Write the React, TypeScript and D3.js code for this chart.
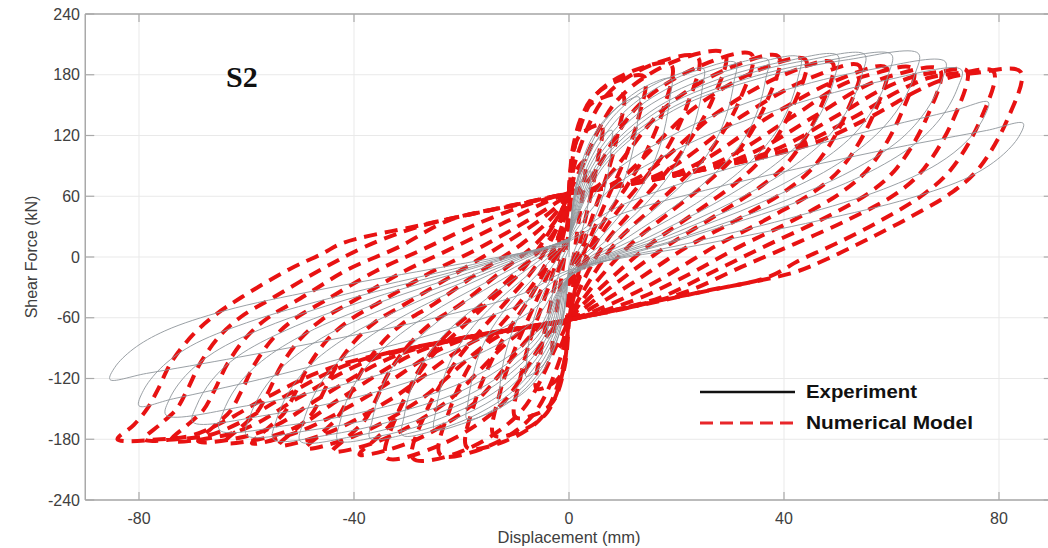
import React from "react";
import * as d3 from "d3";

type P = [number, number];

const xTicks = [-80, -40, 0, 40, 80];
const yTicks = [-240, -180, -120, -60, 0, 60, 120, 180, 240];

// ---- Experiment (gray) cycles: [displacement mm, shear kN]
const exp01: P[] = [[0,0],[0.4,38],[1.2,61],[2.2,75],[3.2,82],[4,85],[4,77],[3.8,64],[3.5,51],[3,37],[2.2,23],[1.2,9],[0,-9],[-0.4,-36],[-1.2,-58],[-2.2,-70],[-3.2,-78],[-4,-80],[-4,-72],[-3.8,-60],[-3.5,-48],[-3,-35],[-2.2,-22],[-1.2,-8],[0,8]];
const exp02: P[] = [[0,8],[0.8,56],[2.4,90],[4.4,110],[6.4,121],[8,125],[7.9,113],[7.6,94],[7,75],[6,55],[4.4,34],[2.4,13],[0,-13],[-0.8,-53],[-2.4,-85],[-4.4,-104],[-6.4,-114],[-8,-118],[-7.9,-106],[-7.6,-89],[-7,-71],[-6,-52],[-4.4,-32],[-2.4,-12],[0,12]];
const exp03: P[] = [[0,12],[1.3,71],[3.9,114],[7.2,139],[10.4,153],[13,158],[12.9,142],[12.4,119],[11.4,95],[9.8,70],[7.2,43],[3.9,16],[0,-16],[-1.3,-65],[-3.9,-104],[-7.2,-128],[-10.4,-141],[-13,-145],[-12.9,-131],[-12.4,-109],[-11.4,-87],[-9.8,-64],[-7.2,-39],[-3.9,-15],[0,15]];
const exp04: P[] = [[0,15],[1.9,79],[5.7,127],[10.5,155],[15.2,171],[19,176],[18.8,158],[18,132],[16.7,106],[14.3,77],[10.5,48],[5.7,18],[0,-18],[-1.9,-72],[-5.7,-115],[-10.5,-141],[-15.2,-155],[-19,-160],[-18.8,-144],[-18,-120],[-16.7,-96],[-14.3,-70],[-10.5,-43],[-5.7,-16],[0,16]];
const exp05: P[] = [[0,16],[2.5,84],[7.5,134],[13.8,164],[20,180],[25,186],[24.8,167],[23.8,140],[22,112],[18.8,82],[13.8,50],[7.5,19],[0,-19],[-2.5,-77],[-7.5,-122],[-13.8,-150],[-20,-165],[-25,-170],[-24.8,-153],[-23.8,-128],[-22,-102],[-18.8,-75],[-13.8,-46],[-7.5,-17],[0,17]];
const exp06: P[] = [[0,17],[3.1,86],[9.3,138],[17,169],[24.8,186],[31,192],[30.7,173],[29.5,144],[27.3,115],[23.3,84],[17,52],[9.3,19],[0,-19],[-3.1,-79],[-9.3,-127],[-17,-155],[-24.8,-171],[-31,-176],[-30.7,-158],[-29.5,-132],[-27.3,-106],[-23.3,-77],[-17,-48],[-9.3,-18],[0,18]];
const exp07: P[] = [[0,18],[3.7,88],[11.1,140],[20.4,172],[29.6,189],[37,195],[36.6,176],[35.2,146],[32.6,117],[27.8,86],[20.4,53],[11.1,20],[0,-20],[-3.7,-81],[-11.1,-129],[-20.4,-158],[-29.6,-174],[-37,-179],[-36.6,-161],[-35.2,-134],[-32.6,-107],[-27.8,-79],[-20.4,-48],[-11.1,-18],[0,18]];
const exp08: P[] = [[0,18],[4.3,89],[12.9,142],[23.7,173],[34.4,191],[43,197],[42.6,177],[40.9,148],[37.8,118],[32.3,87],[23.7,53],[12.9,20],[0,-20],[-4.3,-81],[-12.9,-130],[-23.7,-159],[-34.4,-176],[-43,-181],[-42.6,-163],[-40.9,-136],[-37.8,-109],[-32.3,-80],[-23.7,-49],[-12.9,-18],[0,18]];
const exp09: P[] = [[0,18],[5,90],[15,143],[27.5,175],[40,193],[50,199],[49.5,179],[47.5,149],[44,119],[37.5,88],[27.5,54],[15,20],[0,-20],[-5,-82],[-15,-131],[-27.5,-160],[-40,-177],[-50,-182],[-49.5,-164],[-47.5,-137],[-44,-109],[-37.5,-80],[-27.5,-49],[-15,-18],[0,18]];
const exp10: P[] = [[0,18],[5.5,90],[16.5,144],[30.3,176],[44,194],[55,200],[54.5,180],[52.3,150],[48.4,120],[41.3,88],[30.3,54],[16.5,20],[0,-20],[-5.5,-81],[-16.5,-130],[-30.3,-158],[-44,-175],[-55,-180],[-54.5,-162],[-52.3,-135],[-48.4,-108],[-41.3,-79],[-30.3,-49],[-16.5,-18],[0,18]];
const exp11: P[] = [[0,18],[6,90],[18,144],[33,176],[48,194],[60,200],[59.4,180],[57,150],[52.8,120],[45,88],[33,54],[18,20],[0,-20],[-6,-79],[-18,-127],[-33,-155],[-48,-171],[-60,-176],[-59.4,-158],[-57,-132],[-52.8,-106],[-45,-77],[-33,-48],[-18,-18],[0,18]];
const exp12: P[] = [[0,18],[6.5,90],[19.5,145],[35.8,177],[52,195],[65,201],[64.4,181],[61.8,151],[57.2,121],[48.8,88],[35.8,54],[19.5,20],[0,-20],[-6.5,-77],[-19.5,-123],[-35.8,-150],[-52,-166],[-65,-171],[-64.4,-154],[-61.8,-128],[-57.2,-103],[-48.8,-75],[-35.8,-46],[-19.5,-17],[0,17]];
const exp13: P[] = [[0,17],[7,77],[21,125],[38.5,162],[56,185],[70,193],[69.3,174],[66.5,145],[61.6,116],[52.5,85],[38.5,52],[21,19],[0,-19],[-7,-65],[-21,-106],[-38.5,-137],[-56,-156],[-70,-163],[-69.3,-147],[-66.5,-122],[-61.6,-98],[-52.5,-72],[-38.5,-44],[-21,-16],[0,16]];
const exp14: P[] = [[0,16],[7.3,65],[21.9,111],[40.2,148],[58.4,174],[73,185],[72.3,167],[69.4,139],[64.2,111],[54.8,81],[40.2,50],[21.9,19],[0,-19],[-7.5,-55],[-22.5,-94],[-41.3,-125],[-60,-147],[-75,-156],[-74.3,-140],[-71.3,-117],[-66,-94],[-56.3,-69],[-41.3,-42],[-22.5,-16],[0,16]];
const exp15: P[] = [[0,16],[7.8,46],[23.4,77],[39,101],[56.2,125],[71.8,145],[78,153],[77.2,138],[74.1,115],[68.6,92],[58.5,67],[42.9,41],[23.4,15],[0,-15],[-8,-44],[-24,-74],[-40,-97],[-57.6,-121],[-73.6,-140],[-80,-147],[-79.2,-132],[-76,-110],[-70.4,-88],[-60,-65],[-44,-40],[-24,-15],[0,15]];
const exp16: P[] = [[0,15],[8.5,40],[25.4,66],[42.3,87],[60.8,108],[77.7,125],[84.5,132],[83.7,119],[80.3,99],[74.4,79],[63.4,58],[46.5,36],[25.4,13],[0,-13],[-8.5,-36],[-25.6,-61],[-42.7,-80],[-61.5,-99],[-78.6,-115],[-85.4,-121],[-84.5,-109],[-81.1,-91],[-75.2,-73],[-64,-53],[-47,-33],[-25.6,-12],[0,12]];

// ---- Numerical model (red dashed) cycles
const num01: P[] = [[0,25],[0.4,60],[1.3,85],[3,95],[2.6,65],[1.8,35],[1,5],[0,-25],[-0.4,-60],[-1.3,-85],[-3,-95],[-2.6,-65],[-1.8,-35],[-1,-5],[0,25]];
const num02: P[] = [[0,45],[0.6,95],[2,120],[6,130],[5.3,95],[4,60],[2.5,25],[1,-10],[0,-45],[-0.6,-95],[-2,-120],[-6,-130],[-5.3,-95],[-4,-60],[-2.5,-25],[-1,10],[0,45]];
const num03: P[] = [[0,63],[0.8,110],[3,145],[6,157],[10,160],[9,120],[7,80],[5,50],[3,18],[1.3,-15],[0.4,-40],[0,-62],[-0.8,-108],[-3,-143],[-6,-155],[-10,-158],[-9,-118],[-7,-78],[-5,-48],[-3,-16],[-1.3,16],[-0.4,40],[0,63]];
const num04: P[] = [[0,63],[1,112],[4,155],[9,174],[14,178],[12.8,135],[10,92],[7.5,62],[5,32],[2.5,0],[1,-35],[0,-62],[-1,-110],[-4,-153],[-9,-172],[-14,-176],[-12.8,-133],[-10,-90],[-7.5,-60],[-5,-30],[-2.5,2],[-1,36],[0,63]];
const num05: P[] = [[0,63],[1,108],[5,160],[12,184],[19,190],[17.5,145],[14,100],[11,72],[7,40],[4,10],[1.5,-25],[0,-62],[-1,-106],[-5,-158],[-12,-182],[-19,-188],[-17.5,-143],[-14,-98],[-11,-70],[-7,-38],[-4,-8],[-1.5,27],[0,63]];
const num06: P[] = [[0,63],[1.5,100],[7,160],[16,191],[24,197],[22,150],[18,105],[14,77],[9,45],[5,14],[2,-20],[0.5,-48],[0,-62],[-1.5,-98],[-7,-158],[-16,-189],[-24,-195],[-22,-148],[-18,-103],[-14,-75],[-9,-44],[-5,-13],[-2,20],[-0.5,47],[0,63]];
const num07: P[] = [[0,63],[2,85],[9,155],[20,194],[29,201],[26.5,153],[21,104],[17,77],[12,47],[7,16],[3,-20],[0.8,-48],[0,-62],[-2,-84],[-9,-153],[-20,-192],[-29,-199],[-26.5,-152],[-21,-103],[-17,-76],[-12,-46],[-7,-15],[-3,20],[-0.8,47],[0,63]];
const num08: P[] = [[0,63],[3,72],[13,150],[25,190],[34,200],[31.5,152],[26,103],[21,76],[15,46],[9,16],[4,-22],[1,-50],[0,-62],[-3,-71],[-13,-148],[-25,-188],[-34,-198],[-31.5,-150],[-26,-101],[-21,-75],[-15,-45],[-9,-15],[-4,22],[-1,50],[0,63]];
const num09: P[] = [[0,63],[5,69],[18,148],[30,187],[39,198],[36.5,150],[31,101],[26,75],[19,45],[12,15],[5,-25],[1.5,-50],[0,-62],[-5,-68],[-18,-146],[-30,-184],[-39,-195],[-36,-180],[-33,-164],[-31,-145],[-28.5,-117],[-25,-90],[-21,-68],[-16,-46],[-10,-16],[-4,15],[-1,42],[0,63]];
const num10: P[] = [[0,63],[8,72],[23,146],[35,184],[44,195],[41.5,147],[36,98],[31,73],[23,42],[15,12],[7,-25],[2,-50],[0,-62],[-8,-71],[-23,-144],[-35,-181],[-44,-192],[-41,-177],[-38,-161],[-36,-142],[-33.5,-114],[-30,-88],[-26,-67],[-20,-46],[-13,-16],[-6,14],[-2,40],[0,63]];
const num11: P[] = [[0,63],[12,76],[28,144],[40,180],[49,192],[46.5,144],[41,95],[36,71],[27,40],[18,10],[9,-25],[3,-50],[0,-62],[-12,-75],[-28,-142],[-40,-177],[-49,-189],[-46,-174],[-43,-158],[-41,-139],[-38.5,-112],[-35,-86],[-31,-66],[-25,-46],[-17,-16],[-9,12],[-3,40],[0,63]];
const num12: P[] = [[0,63],[16,80],[33,142],[45,177],[54,189],[51.5,141],[46,92],[41,68],[32,39],[22,10],[12,-25],[5,-48],[0,-62],[-16,-79],[-33,-140],[-45,-174],[-54,-186],[-51,-171],[-48,-156],[-46,-137],[-43.5,-110],[-40,-84],[-36,-64],[-30,-45],[-21,-16],[-13,10],[-5,38],[-1,56],[0,63]];
const num13: P[] = [[0,63],[21,85],[38,141],[50,175],[59,187],[56.5,139],[51,90],[46,66],[37,38],[27,10],[17,-22],[8,-46],[0,-62],[-21,-84],[-38,-139],[-50,-172],[-59,-184],[-56,-169],[-53,-154],[-51,-135],[-48.5,-108],[-45,-82],[-41,-63],[-35,-44],[-26,-16],[-17,8],[-8,35],[-2,55],[0,63]];
const num14: P[] = [[0,63],[26,90],[42,140],[50,168],[56,180],[64,186],[61.5,138],[56,89],[51,65],[42,37],[32,11],[22,-18],[12,-43],[0,-62],[-26,-89],[-42,-138],[-50,-166],[-56,-178],[-64,-183],[-61,-168],[-58,-153],[-56,-134],[-53.5,-107],[-50,-81],[-46,-62],[-40,-43],[-31,-15],[-22,8],[-12,34],[-4,55],[0,63]];
const num15: P[] = [[0,63],[31,96],[46,140],[54,166],[60,179],[69,185],[66.5,137],[61,88],[56,64],[47,37],[37,12],[27,-14],[17,-40],[8,-53],[0,-62],[-31,-95],[-46,-138],[-54,-165],[-60,-177],[-69,-182],[-66,-167],[-63,-152],[-61,-133],[-58.5,-106],[-55,-80],[-51,-61],[-45,-42],[-36,-14],[-27,8],[-17,33],[-7,53],[0,63]];
const num16: P[] = [[0,63],[36,101],[50,140],[58,165],[64,178],[69,183],[74,184],[71.5,136],[66,87],[61,63],[52,37],[42,13],[32,-10],[22,-34],[12,-49],[0,-62],[-36,-100],[-50,-138],[-58,-164],[-64,-176],[-74,-181],[-71,-166],[-68,-151],[-66,-132],[-63.5,-105],[-60,-79],[-56,-60],[-50,-41],[-41,-12],[-32,9],[-22,37],[-10,51],[0,63]];
const num17: P[] = [[0,63],[40,105],[53,138],[61,163],[67,177],[73,182],[79,183],[76.5,135],[71,86],[66,62],[58,36],[50,14],[43,-3],[37,-20],[25,-34],[12,-49],[0,-62],[-40,-104],[-53,-138],[-61,-163],[-67,-176],[-73,-180],[-79,-180],[-76,-165],[-73,-150],[-71,-131],[-68.5,-104],[-65,-78],[-61,-59],[-55,-40],[-46,-12],[-38,10],[-28,30],[-15,46],[0,63]];
const num18: P[] = [[0,63],[43,108],[56,138],[64,162],[70,176],[76,182],[84,183],[81.5,135],[76,86],[71,63],[63,38],[55,16],[48,-2],[42,-15],[28,-31],[14,-46],[0,-62],[-43,-107],[-56,-138],[-64,-162],[-70,-176],[-76,-180],[-84,-180],[-81,-166],[-78.5,-150],[-76.5,-131],[-74,-104],[-70,-77],[-66,-58],[-61,-40],[-52,-12],[-46,3],[-42,14],[-28,31],[-14,47],[0,63]];

const experimentCycles = [exp01, exp02, exp03, exp04, exp05, exp06, exp07, exp08, exp09, exp10, exp11, exp12, exp13, exp14, exp15, exp16];
const numericalCycles = [num01, num02, num03, num04, num05, num06, num07, num08, num09, num10, num11, num12, num13, num14, num15, num16, num17, num18];

const legendLabels = ["Experiment", "Numerical Model"];

export default function App() {
  const W = 1048;
  const H = 548;
  const x = d3.scaleLinear().domain([-90, 90]).range([85.25, 1052.75]);
  const y = d3.scaleLinear().domain([-240, 240]).range([500, 14]);
  const line = d3
    .line<P>()
    .x((d) => x(d[0]))
    .y((d) => y(d[1]))
    .curve(d3.curveCatmullRom.alpha(0.5));

  const x0 = x(-90);
  const x1 = x(90);
  const y0 = y(-240);
  const y1 = y(240);
  const axisColor = "#a9a9a9";
  const gridColor = "#e9e9e9";
  const textColor = "#404040";
  const red = "#e81212";

  return (
    <svg
      width={W}
      height={H}
      style={{ position: "absolute", left: 0, top: 0, background: "#fff" }}
      fontFamily="'Liberation Sans', Arial, sans-serif"
    >
      <defs>
        <clipPath id="plot">
          <rect x={x0} y={y1} width={x1 - x0} height={y0 - y1} />
        </clipPath>
      </defs>
      <rect x={0} y={0} width={W} height={H} fill="#fff" />
      {/* grid */}
      {xTicks.map((t) => (
        <line key={"gx" + t} x1={x(t)} x2={x(t)} y1={y1} y2={y0} stroke={gridColor} strokeWidth={1} />
      ))}
      {yTicks.map((t) => (
        <line key={"gy" + t} x1={x0} x2={x1} y1={y(t)} y2={y(t)} stroke={gridColor} strokeWidth={1} />
      ))}
      {/* data */}
      <g clipPath="url(#plot)">
        {numericalCycles.map((c, i) => (
          <path
            key={"n" + i}
            d={line(c) || ""}
            fill="none"
            stroke={red}
            strokeWidth={4}
            strokeDasharray="13 8"
            strokeLinecap="butt"
            strokeLinejoin="round"
          />
        ))}
        {experimentCycles.map((c, i) => (
          <path
            key={"e" + i}
            d={line(c) || ""}
            fill="none"
            stroke="#8f969b"
            strokeWidth={1}
            strokeOpacity={0.9}
          />
        ))}
      </g>
      {/* axes box */}
      <line x1={x0} x2={x0} y1={y1} y2={y0} stroke={axisColor} strokeWidth={1.5} />
      <line x1={x0} x2={x1} y1={y0} y2={y0} stroke={axisColor} strokeWidth={1.5} />
      <line x1={x0} x2={x1} y1={y1} y2={y1} stroke={axisColor} strokeWidth={1.5} />
      <line x1={x1} x2={x1} y1={y1} y2={y0} stroke={axisColor} strokeWidth={1.5} />
      {yTicks.map((t) => (
        <g key={"ty" + t}>
          <line x1={x0} x2={x0 + 9} y1={y(t)} y2={y(t)} stroke={axisColor} strokeWidth={1.2} />
          <line x1={x1 - 9} x2={x1} y1={y(t)} y2={y(t)} stroke={axisColor} strokeWidth={1.2} />
          <text x={80} y={y(t)} textAnchor="end" dominantBaseline="central" fontSize={16} fill={textColor}>
            {t}
          </text>
        </g>
      ))}
      {xTicks.map((t) => (
        <g key={"tx" + t}>
          <line x1={x(t)} x2={x(t)} y1={y0} y2={y0 - 8} stroke={axisColor} strokeWidth={1.2} />
          <line x1={x(t)} x2={x(t)} y1={y1} y2={y1 + 8} stroke={axisColor} strokeWidth={1.2} />
          <text x={x(t)} y={524} textAnchor="middle" fontSize={16} fill={textColor}>
            {t}
          </text>
        </g>
      ))}
      <text x={569} y={543} textAnchor="middle" fontSize={16.5} fill={textColor}>
        Displacement (mm)
      </text>
      <text
        transform={`translate(37, ${y(0)}) rotate(-90)`}
        textAnchor="middle"
        fontSize={16}
        fill={textColor}
      >
        Shear Force (kN)
      </text>
      <text x={226} y={87} fontSize={30} fontWeight="bold" fontFamily="'Liberation Serif', 'Times New Roman', serif" fill="#111">
        S2
      </text>
      {/* legend */}
      <line x1={700} x2={795} y1={392} y2={392} stroke="#111" strokeWidth={2.5} />
      <text x={806} y={398} fontSize={18} fontWeight="bold" fill="#111" textLength={111} lengthAdjust="spacingAndGlyphs">
        {legendLabels[0]}
      </text>
      <line x1={700} x2={798} y1={423} y2={423} stroke="#e8262a" strokeWidth={3} strokeDasharray="13 7" />
      <text x={806} y={429} fontSize={18} fontWeight="bold" fill="#111" textLength={167} lengthAdjust="spacingAndGlyphs">
        {legendLabels[1]}
      </text>
    </svg>
  );
}
